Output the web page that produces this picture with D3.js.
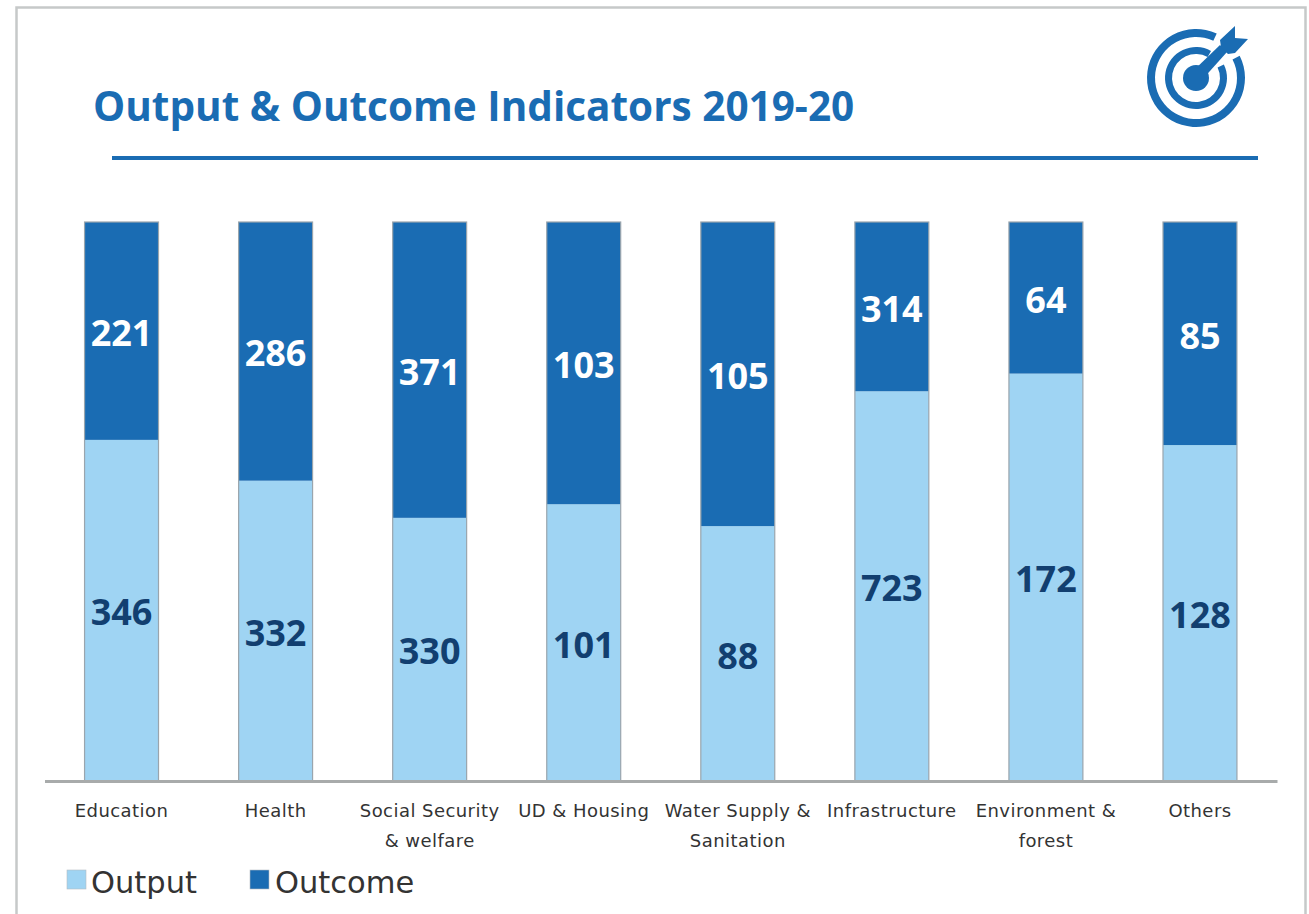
<!DOCTYPE html>
<html><head><meta charset="utf-8">
<script src="https://cdn.jsdelivr.net/npm/d3@7/dist/d3.min.js"></script>
<style>html,body{margin:0;padding:0;background:#fff;overflow:hidden}svg{display:block}</style>
</head><body><svg id="c" width="1309" height="914"></svg>
<script>
const categories = ["Education","Health","Social Security|& welfare","UD & Housing","Water Supply &|Sanitation","Infrastructure","Environment &|forest","Others"];
const outputValues = [346,332,330,101,88,723,172,128];
const outcomeValues = [221,286,371,103,105,314,64,85];
const seriesNames = ["Output","Outcome"];
const titleText = "Output & Outcome Indicators 2019-20";
const colors = {Output:"#9fd4f3",Outcome:"#1a6cb3"};
const labelColors = {Output:"#123f70",Outcome:"#ffffff"};

const svg = d3.select("#c");
svg.append("path").attr("d","M16.5,914V7.5H1305.5V914").attr("fill","none").attr("stroke","#c6c9c9").attr("stroke-width",2.5);
svg.append("text").attr("x",93).attr("y",121).attr("font-family","'Open Sans'").attr("font-weight",700)
  .attr("font-size",40.5).attr("fill","#1a6cb3").text(titleText);
svg.append("rect").attr("x",112).attr("y",156).attr("width",1146).attr("height",4).attr("fill","#1a6cb3");

const ic = svg.append("g").attr("transform","translate(1196,78)").attr("fill","#1a6cb3");
const rad = d=>d*Math.PI/180;
const arc = d3.arc();
ic.append("path").attr("d",arc({innerRadius:41,outerRadius:49,startAngle:rad(63),endAngle:rad(385)}));
ic.append("path").attr("d",arc({innerRadius:24,outerRadius:31,startAngle:rad(64),endAngle:rad(389)}));
ic.append("circle").attr("r",13);
ic.append("path").attr("d","M-4,-6L24,-33L31,-26L5,3Z");
ic.append("path").attr("d","M24,-38L39,-52L39,-40L52,-39L39,-25L32,-24L25,-31Z");

const x = d3.scaleBand().domain(categories).range([44.5,1277]).paddingInner(0.52).paddingOuter(0.26);
const y = d3.scaleLinear().domain([0,1]).range([781,222]);
const rows = categories.map((c,i)=>({cat:c,Output:outputValues[i],Outcome:outcomeValues[i]}));
const stack = d3.stack().keys(seriesNames).offset(d3.stackOffsetExpand)(rows);

const groups = svg.selectAll("g.s").data(stack).join("g").attr("class","s");
groups.selectAll("rect").data(d=>d.map(v=>({v,key:d.key}))).join("rect")
  .attr("x",d=>x(d.v.data.cat)).attr("width",x.bandwidth())
  .attr("y",d=>y(d.v[1])).attr("height",d=>y(d.v[0])-y(d.v[1]))
  .attr("fill",d=>colors[d.key]);
svg.selectAll("rect.o").data(rows).join("rect").attr("class","o")
  .attr("x",d=>x(d.cat)).attr("width",x.bandwidth()).attr("y",y(1)).attr("height",y(0)-y(1))
  .attr("fill","none").attr("stroke","#9aa5ad").attr("stroke-width",1.2);

groups.selectAll("text").data(d=>d.map(v=>({v,key:d.key}))).join("text")
  .attr("x",d=>x(d.v.data.cat)+x.bandwidth()/2)
  .attr("y",d=>(y(d.v[0])+y(d.v[1]))/2+15)
  .attr("text-anchor","middle").attr("font-family","'Open Sans'").attr("font-weight",700).attr("font-size",36)
  .attr("fill",d=>labelColors[d.key]).text(d=>d.v.data[d.key]);

const axis = svg.append("g").attr("transform","translate(0,781)").call(d3.axisBottom(x).tickSize(0).tickFormat(""));
axis.select(".domain").attr("stroke","#a8abab").attr("stroke-width",3);
axis.selectAll(".tick text").remove();
axis.selectAll(".tick").each(function(d){
  const t = d3.select(this).append("text").attr("text-anchor","middle").attr("font-family","'DejaVu Sans'")
    .attr("font-size",18).attr("letter-spacing",0.45).attr("fill","#333");
  d.split("|").forEach((s,i)=>t.append("tspan").attr("x",0).attr("y",36+i*30).text(s));
});

const legendX = {Output:67,Outcome:250};
const legendText = {Output:24,Outcome:25};
const lg = svg.selectAll("g.l").data(seriesNames).join("g").attr("class","l")
  .attr("transform",d=>`translate(${legendX[d]},0)`);
lg.append("rect").attr("y",870).attr("width",19).attr("height",19).attr("fill",d=>colors[d]).attr("stroke","#b5bcc2").attr("stroke-width",.6);
lg.append("text").attr("x",d=>legendText[d]).attr("y",893).attr("font-family","'DejaVu Sans'").attr("font-size",30.5).attr("fill","#333").text(d=>d);
</script></body></html>
